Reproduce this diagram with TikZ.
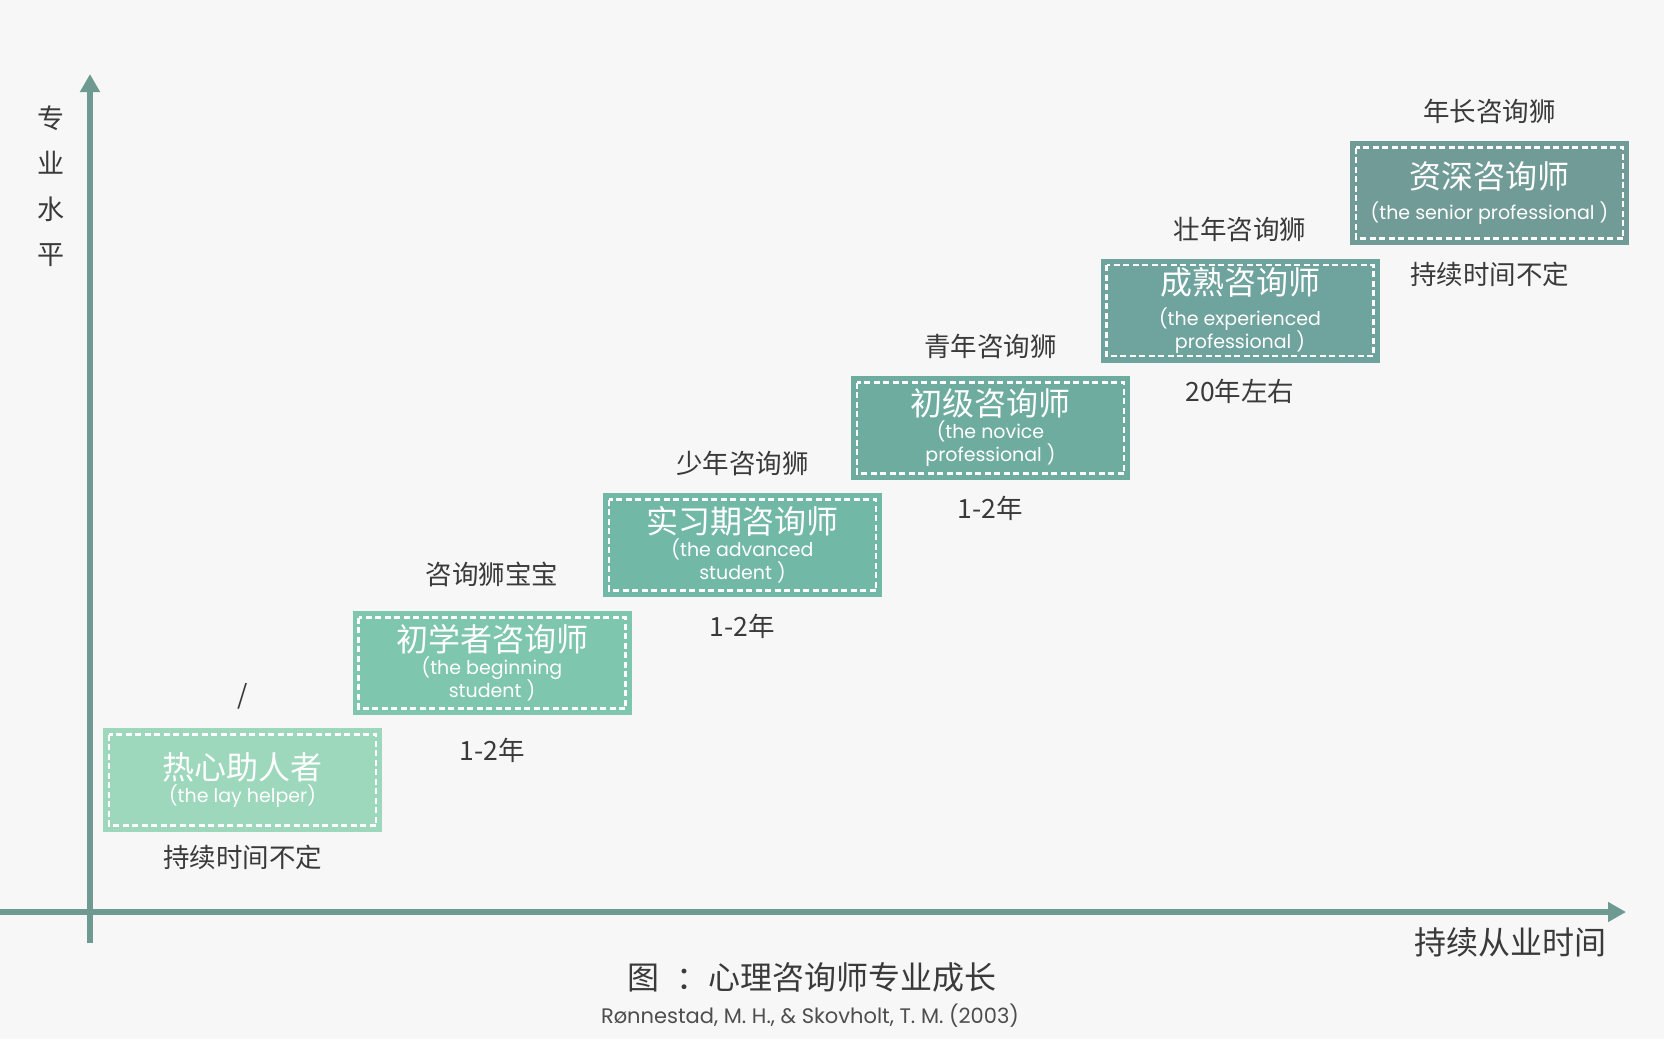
\documentclass[tikz,border=0pt]{standalone}
\usepackage{fontspec}
\setmainfont{Poppins}
\newfontfamily\cjk{Noto Sans CJK SC}
\usepackage{tikz}
\usetikzlibrary{arrows.meta,positioning}
\definecolor{pagebg}{RGB}{246,247,246}
\definecolor{axisteal}{RGB}{110,154,145}
\definecolor{textgray}{RGB}{58,58,58}
\definecolor{stageone}{RGB}{157,216,189}
\definecolor{stagetwo}{RGB}{127,198,174}
\definecolor{stagethree}{RGB}{114,184,166}
\definecolor{stagefour}{RGB}{109,172,159}
\definecolor{stagefive}{RGB}{111,163,158}
\definecolor{stagesix}{RGB}{113,155,150}

\begin{document}
\begin{tikzpicture}[x=1pt, y=-1pt,
      axis/.style={line width=6pt, axisteal, -{Triangle[length=18pt, width=19pt]}},
      stage/.style={rectangle, minimum width=279pt, minimum height=104pt,
                    inner sep=0pt, align=center, text=white,
                    font=\fontsize{19}{23}\selectfont,
                    path picture={\draw[white, line width=2.6pt, dash pattern=on 6pt off 3.5pt]
                      ([shift={(6pt,-6.5pt)}]path picture bounding box.north west) rectangle
                      ([shift={(-6pt,6.5pt)}]path picture bounding box.south east);}},
      lab/.style={font=\cjk\fontsize{26.5}{30}\selectfont, text=textgray, inner sep=0pt}
    ]
    \useasboundingbox[fill=pagebg] (0,0) rectangle (1664,1039);
    % axes
    \coordinate (ybot) at (90,943);
    \coordinate (ytop) at (90,74);
    \coordinate (xleft) at (0,912);
    \coordinate (xright) at (1626,912);
    \draw[axis] (ybot) -- (ytop);
    \draw[axis] (xleft) -- (xright);
    \node[lab, font=\cjk\fontsize{27}{45.5}\selectfont, align=center] (ylab) at (51,186) {专\\业\\水\\平};
    \node[lab, font=\cjk\fontsize{32}{34}\selectfont] (xlab) at (1510,942) {持续从业时间};
    % stages
    \node[stage, fill=stageone] (s1) at (242.5,780) {%
      {\cjk\fontsize{32}{32}\selectfont 热心助人者}\\
      (the lay helper)};
    \node[stage, fill=stagetwo] (s2) at (492,663) {%
      {\cjk\fontsize{32}{32}\selectfont 初学者咨询师}\\
      (the beginning\\ student )};
    \node[stage, fill=stagethree] (s3) at (742.5,545) {%
      {\cjk\fontsize{32}{32}\selectfont 实习期咨询师}\\
      (the advanced\\ student )};
    \node[stage, fill=stagefour] (s4) at (990.5,428) {%
      {\cjk\fontsize{32}{32}\selectfont 初级咨询师}\\
      (the novice\\ professional )};
    \node[stage, fill=stagefive] (s5) at (1240,310.5) {%
      {\cjk\fontsize{32}{32}\selectfont 成熟咨询师}\\[8pt]
      (the experienced\\ professional )};
    \node[stage, fill=stagesix] (s6) at (1489.5,193) {%
      {\cjk\fontsize{32}{32}\selectfont 资深咨询师}\\[8pt]
      (the senior professional )};
    % names above
    \node[lab, above=31pt of s1.north, anchor=center] (n1) {/};
    \node[lab, above=36pt of s2.north, anchor=center] (n2) {咨询狮宝宝};
    \node[lab, above=29pt of s3.north, anchor=center] (n3) {少年咨询狮};
    \node[lab, above=29pt of s4.north, anchor=center] (n4) {青年咨询狮};
    \node[lab, above=29pt of s5.north, anchor=center] (n5) {壮年咨询狮};
    \node[lab, above=29pt of s6.north, anchor=center] (n6) {年长咨询狮};
    % durations below
    \node[lab, below=25pt of s1.south, anchor=center] (d1) {持续时间不定};
    \node[lab, below=35pt of s2.south, anchor=center] (d2) {1-2年};
    \node[lab, below=29pt of s3.south, anchor=center] (d3) {1-2年};
    \node[lab, below=28pt of s4.south, anchor=center] (d4) {1-2年};
    \node[lab, below=29pt of s5.south, anchor=center] (d5) {20年左右};
    \node[lab, below=29pt of s6.south, anchor=center] (d6) {持续时间不定};
    % caption
    \node[lab, font=\cjk\fontsize{32}{34}\selectfont] (cap) at (812,977) {图\hspace{18pt}：心理咨询师专业成长};
    \node[lab, font=\fontsize{21}{24}\selectfont, text=textgray!90] (cite) at (810,1016)
      {Rønnestad, M. H., \& Skovholt, T. M. (2003)};
  \end{tikzpicture}
\end{document}
